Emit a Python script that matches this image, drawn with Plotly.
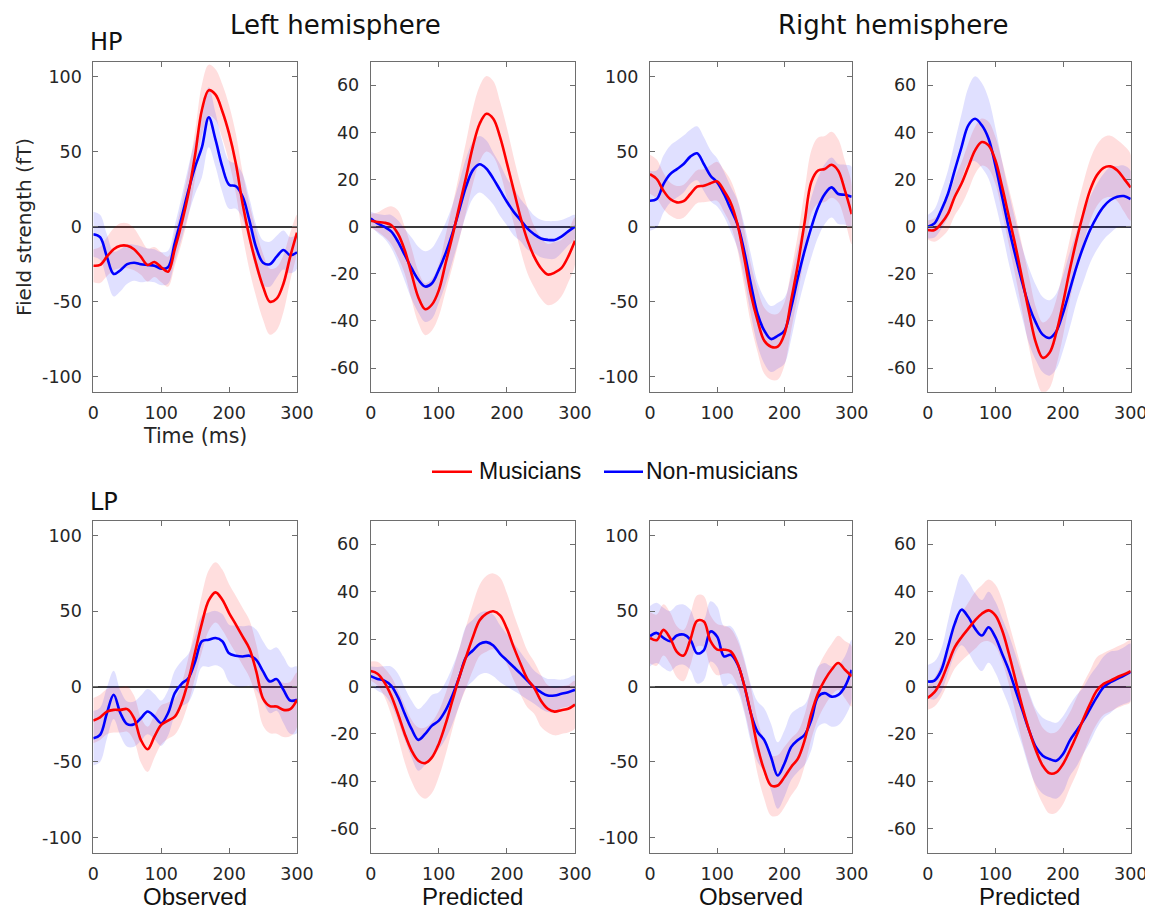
import plotly.graph_objects as go

# ---------------- data (time in ms, field strength in fT) ----------------
time_ms = [0, 10, 20, 30, 40, 50, 60, 70, 80, 90, 100, 110, 120, 130, 140, 150,
           160, 170, 180, 190, 200, 210, 220, 230, 240, 250, 260, 270, 280, 290, 300]

# HP, left hemisphere, observed
hp_lh_obs_mus = [-26, -25.5, -20, -15, -12.7, -12.7, -15, -20, -25.5, -23.5, -27, -30, -15, 2, 22, 48,
                 78, 91, 88, 77, 62, 42, 15, -7, -25, -40, -50, -48, -38, -20, -4]
hp_lh_obs_mus_sem = [11, 12, 13, 14, 15, 15, 14, 12, 11, 10, 10, 10, 11, 13, 15, 16,
                     17, 17, 17, 18, 19, 20, 21, 22, 22, 22, 22, 21, 19, 16, 12]
hp_lh_obs_non = [-5, -7, -20, -31.5, -29, -25, -24, -25, -25.5, -26, -28, -27, -11, 6, 24, 40,
                 53, 73, 58, 40, 28, 27, 20, 4, -14, -24, -25, -20, -15.5, -19, -17]
hp_lh_obs_non_sem = [15, 15, 15, 15, 14, 13, 12, 12, 11, 11, 11, 11, 12, 14, 16, 18,
                     20, 20, 18, 17, 16, 15, 15, 15, 15, 15, 15, 14, 13, 12, 11]

# HP, left hemisphere, predicted
hp_lh_pred_mus = [2.5, 2, 1.7, 0.7, -3, -10, -20, -30, -35, -33, -27, -15.5, -4, 8.5, 21, 34,
                  43.7, 47.9, 45.8, 38, 27, 15.5, 4, -5.6, -12.7, -17.6, -20.3, -19.5, -17.6, -12.7, -6]
hp_lh_pred_mus_sem = [3, 4, 6, 8, 10, 10, 11, 11, 11, 11, 11, 12, 13, 14, 15, 16,
                      16, 16, 16, 15, 15, 14, 14, 14, 13, 13, 13, 13, 12, 11, 10]
hp_lh_pred_non = [3.5, 1.4, 0, -2, -6.3, -12, -17.6, -22.5, -25.4, -24, -18.3, -11.3, -2.8, 7, 17, 24,
                  26.5, 24.6, 20.4, 15.5, 10.6, 6.3, 2.8, -0.7, -3.2, -5, -5.6, -5.6, -4.2, -2, 0]
hp_lh_pred_non_sem = [3, 4, 5, 7, 9, 11, 13, 14, 15, 15, 14, 13, 12, 12, 12, 12,
                      12, 12, 11, 11, 10, 10, 9, 9, 8, 8, 8, 8, 7, 6, 5]

# HP, right hemisphere, observed
hp_rh_obs_mus = [35, 31.8, 24, 18.4, 16.2, 17, 21.8, 26.7, 27.3, 28.9, 30.2, 24, 16, 1.8, -20.4, -44.9,
                 -62.7, -76, -80, -80, -71.6, -49, -25, 3, 30, 37.5, 38.5, 41.3, 37.3, 24, 8.4]
hp_rh_obs_mus_sem = [13, 13, 12, 11, 11, 11, 11, 11, 11, 12, 13, 14, 15, 17, 19, 20,
                     21, 22, 22, 22, 21, 20, 20, 21, 21, 22, 22, 22, 21, 20, 20]
hp_rh_obs_non = [17.3, 18.4, 28.4, 35, 38.4, 41.8, 46.7, 48.9, 41.8, 34, 29.5, 21.8, 11.8, 1.8, -16, -38.2,
                 -58.2, -69.3, -74.9, -72.7, -69.3, -53.8, -33.8, -16, -0.4, 12.9, 21.8, 26.2, 21.8, 21.3, 20]
hp_rh_obs_non_sem = [20, 19, 19, 19, 19, 19, 18, 18, 18, 17, 16, 15, 15, 16, 18, 20,
                     21, 22, 22, 22, 22, 21, 20, 20, 20, 20, 20, 20, 20, 20, 20]

# HP, right hemisphere, predicted
hp_rh_pred_mus = [-1.4, -1.4, 1.4, 5.5, 12.7, 18.3, 25.4, 32.4, 35.9, 34.5, 28.2, 16.9, 4.2, -8.5, -22.5, -36.6,
                  -49.3, -55.6, -53.5, -45, -32.4, -18.3, -5.6, 5.6, 15.5, 21.8, 25, 25.6, 23.9, 20.4, 16.6]
hp_rh_pred_mus_sem = [4, 5, 6, 7, 8, 9, 10, 10, 10, 10, 10, 11, 12, 13, 14, 15,
                      15, 15, 15, 14, 14, 13, 13, 13, 13, 13, 13, 13, 13, 14, 14]
hp_rh_pred_non = [0, 1.4, 7, 14, 24, 33.8, 43, 45.8, 43, 37.3, 26, 12.7, -0.7, -12.7, -24, -33.8,
                  -40.8, -45.8, -47.2, -44.4, -36.6, -26.8, -16.9, -8.5, -1.4, 4.2, 8.5, 11.3, 12.7, 13, 11.7]
hp_rh_pred_non_sem = [5, 6, 8, 10, 12, 14, 16, 18, 18, 17, 16, 15, 15, 15, 15, 16,
                      16, 16, 16, 16, 16, 16, 15, 15, 14, 14, 14, 14, 13, 13, 12]

# LP, left hemisphere, observed
lp_lh_obs_mus = [-22.6, -20.4, -16.6, -15.5, -15.5, -15, -21, -35.4, -41.6, -33.2, -25.4, -22.6, -20, -11, 4, 23,
                 42, 57, 62.4, 57.5, 48.7, 41, 33, 25, 10, -8, -13, -13.3, -15.5, -15, -8.8]
lp_lh_obs_mus_sem = [15, 15, 15, 15, 15, 15, 15, 15, 15, 14, 13, 12, 12, 13, 15, 17,
                     19, 20, 20, 20, 19, 19, 19, 19, 18, 18, 18, 18, 18, 18, 18]
lp_lh_obs_non = [-34.3, -32, -17.7, -5.5, -17.7, -25, -25, -21, -16.6, -19.9, -24.3, -17.7, -4.4, 1.8, 5.5, 16.6,
                 30, 31, 32.1, 30, 22, 20.4, 19.9, 20.4, 17.7, 10, 3.3, 4.9, -2.2, -9.3, -8.8]
lp_lh_obs_non_sem = [18, 18, 17, 16, 15, 15, 15, 15, 15, 15, 15, 15, 15, 15, 16, 17,
                     17, 18, 18, 18, 19, 20, 20, 20, 20, 20, 21, 21, 22, 22, 22]

# LP, left hemisphere, predicted
lp_lh_pred_mus = [6.5, 5.4, 1.8, -3.8, -11.5, -20, -27, -31.3, -32.3, -29.9, -24.2, -15.8, -5.9, 3.9, 12.4, 20.8,
                  27.9, 30.7, 31.7, 30, 24.4, 16.6, 9.6, 3.2, -0.5, -6, -9.4, -10.6, -10, -9.4, -7.6]
lp_lh_pred_mus_sem = [4, 5, 6, 8, 10, 12, 13, 14, 15, 15, 14, 13, 12, 12, 13, 14,
                      15, 16, 16, 16, 15, 14, 13, 12, 11, 11, 10, 10, 10, 10, 10]
lp_lh_pred_non = [4.4, 3.2, 2.5, 0.4, -4.5, -11.5, -17.9, -22.5, -20, -16.5, -14.4, -10.1, -3.8, 3.9, 12.4, 15.2,
                  18, 18.7, 17.3, 13.8, 11, 8.2, 5.4, 2.5, -0.3, -2.4, -3.8, -3.8, -3.1, -2.4, -1.4]
lp_lh_pred_non_sem = [4, 5, 6, 8, 10, 11, 12, 13, 13, 13, 12, 12, 12, 12, 13, 13,
                      13, 13, 13, 12, 11, 10, 9, 8, 7, 7, 7, 7, 6, 6, 6]

# LP, right hemisphere, observed
lp_rh_obs_mus = [32.2, 30.7, 37.5, 32, 23, 20.5, 31, 43.5, 43, 30, 24.4, 24.4, 23.3, 15.6, 1, -17.8,
                 -40, -55.6, -65.6, -65.6, -60, -53.3, -47.8, -35.6, -17.8, -4.4, 4.4, 11.1, 15.6, 11.1, 6.7]
lp_rh_obs_mus_sem = [17, 17, 17, 17, 17, 17, 17, 17, 17, 17, 17, 16, 15, 15, 16, 17,
                     18, 19, 20, 20, 20, 19, 18, 17, 17, 17, 17, 17, 18, 19, 20]
lp_rh_obs_non = [33.3, 35.5, 32.2, 30, 33.8, 34.4, 31, 22, 24, 36.5, 33, 20, 21, 15, 1, -17.8,
                 -30, -35.5, -46.7, -59, -51, -40, -35.5, -32, -22, -6.7, -4.4, -6.7, -5.6, 0, 11]
lp_rh_obs_non_sem = [20, 20, 20, 20, 20, 20, 20, 20, 20, 20, 20, 20, 19, 18, 18, 19,
                     20, 21, 22, 22, 22, 22, 21, 20, 20, 20, 20, 20, 20, 20, 20]

# LP, right hemisphere, predicted
lp_rh_pred_mus = [-4.8, -2.4, 2.5, 9.6, 16.6, 20.8, 24.4, 27.9, 30.7, 32.1, 30, 23.7, 13.8, 2.5, -8.7, -18.6,
                  -27, -33.4, -36.6, -36.2, -32.7, -27, -20.7, -13.7, -7.3, -1.7, 1.1, 2.5, 3.9, 5.1, 6.5]
lp_rh_pred_mus_sem = [5, 6, 7, 8, 9, 10, 11, 12, 12, 13, 13, 13, 13, 14, 15, 15,
                      16, 16, 17, 17, 17, 16, 16, 15, 14, 14, 13, 13, 13, 13, 13]
lp_rh_pred_non = [2.1, 2.5, 6.8, 16.6, 26.5, 32.4, 29.3, 24.4, 21.5, 25, 20.8, 13.8, 6.8, -1.7, -10.1, -18.6,
                  -25.6, -29.2, -30.6, -31.3, -28.5, -22.8, -18.6, -14.4, -9.4, -4.5, -0.3, 1.8, 3.2, 4.6, 6.1]
lp_rh_pred_non_sem = [7, 8, 9, 11, 13, 15, 15, 15, 15, 15, 15, 15, 15, 15, 15, 16,
                      16, 16, 16, 16, 16, 15, 15, 14, 14, 13, 13, 13, 12, 12, 12]

x_ticks = [0, 100, 200, 300]
obs_ticks = [-100, -50, 0, 50, 100]
pred_ticks = [-60, -40, -20, 0, 20, 40, 60]
column_labels = ["Observed", "Predicted", "Observed", "Predicted"]
hemisphere_labels = ["Left hemisphere", "Right hemisphere"]
row_labels = ["HP", "LP"]
legend_labels = ["Musicians", "Non-musicians"]

panels = [
    (hp_lh_obs_mus, hp_lh_obs_mus_sem, hp_lh_obs_non, hp_lh_obs_non_sem, "obs"),
    (hp_lh_pred_mus, hp_lh_pred_mus_sem, hp_lh_pred_non, hp_lh_pred_non_sem, "pred"),
    (hp_rh_obs_mus, hp_rh_obs_mus_sem, hp_rh_obs_non, hp_rh_obs_non_sem, "obs"),
    (hp_rh_pred_mus, hp_rh_pred_mus_sem, hp_rh_pred_non, hp_rh_pred_non_sem, "pred"),
    (lp_lh_obs_mus, lp_lh_obs_mus_sem, lp_lh_obs_non, lp_lh_obs_non_sem, "obs"),
    (lp_lh_pred_mus, lp_lh_pred_mus_sem, lp_lh_pred_non, lp_lh_pred_non_sem, "pred"),
    (lp_rh_obs_mus, lp_rh_obs_mus_sem, lp_rh_obs_non, lp_rh_obs_non_sem, "obs"),
    (lp_rh_pred_mus, lp_rh_pred_mus_sem, lp_rh_pred_non, lp_rh_pred_non_sem, "pred"),
]

# ---------------- layout geometry ----------------
# The page body has an 8px margin, so reference pixel positions are shifted by OFF.
W, H = 1145, 902
OFF = 8


def px_x(p):
    return (p - OFF) / W


def px_y(p):
    return 1 - (p - OFF) / H


col_px = [(93.3, 297.0), (370.7, 575.0), (650.0, 851.7), (927.7, 1130.7)]
row_px = [(61.7, 391.7), (520.5, 852.5)]

RED = "#ff0000"
BLUE = "#0000ff"
RED_FILL = "rgba(255,0,0,0.13)"
BLUE_FILL = "rgba(0,0,255,0.12)"
AXCOL = "#6e6e6e"
TICKFONT = dict(family="DejaVu Sans", size=17.5, color="#262626")

fig = go.Figure()
layout = {}

for i, (mus, mus_sem, non, non_sem, kind) in enumerate(panels):
    r, c = divmod(i, 4)
    ax = "" if i == 0 else str(i + 1)
    xa, ya = "x" + ax, "y" + ax

    for mean, sem, fillc in ((mus, mus_sem, RED_FILL), (non, non_sem, BLUE_FILL)):
        upper = [m + s for m, s in zip(mean, sem)]
        lower = [m - s for m, s in zip(mean, sem)]
        fig.add_trace(go.Scatter(
            x=time_ms + time_ms[::-1], y=upper + lower[::-1],
            fill="toself", fillcolor=fillc, line=dict(width=0, shape="spline"),
            mode="lines", hoverinfo="skip", showlegend=False, xaxis=xa, yaxis=ya))
    fig.add_trace(go.Scatter(x=time_ms, y=non, mode="lines",
                             line=dict(color=BLUE, width=2.6, shape="spline", smoothing=1.0),
                             name=legend_labels[1], showlegend=False, xaxis=xa, yaxis=ya))
    fig.add_trace(go.Scatter(x=time_ms, y=mus, mode="lines",
                             line=dict(color=RED, width=2.6, shape="spline", smoothing=1.0),
                             name=legend_labels[0], showlegend=False, xaxis=xa, yaxis=ya))

    x0, x1 = col_px[c]
    y0, y1 = row_px[r]
    yr = [-110, 110] if kind == "obs" else [-70, 70]
    yt = obs_ticks if kind == "obs" else pred_ticks
    common = dict(showline=True, mirror="allticks", linecolor=AXCOL, linewidth=1,
                  ticks="inside", ticklen=5, tickcolor=AXCOL, tickwidth=1,
                  showgrid=False, tickfont=TICKFONT, automargin=False)
    layout["xaxis" + ax] = dict(domain=[px_x(x0), px_x(x1)], range=[0, 300], tickvals=x_ticks,
                                zeroline=False, anchor=ya, ticklabelstandoff=5, **common)
    layout["yaxis" + ax] = dict(domain=[px_y(y1), px_y(y0)], range=yr, tickvals=yt,
                                ticktext=[str(v) for v in yt],
                                zeroline=True, zerolinecolor="#3a3a3a", zerolinewidth=1.5,
                                anchor=xa, ticklabelstandoff=7, **common)

annotations = []
# hemisphere titles
for label, cx in zip(hemisphere_labels, [335, 892.5]):
    annotations.append(dict(text=label, x=px_x(cx), y=px_y(25), xref="paper", yref="paper",
                            xanchor="center", yanchor="middle", showarrow=False,
                            font=dict(family="DejaVu Sans", size=26, color="#111111")))
# row labels
for label, cy in zip(row_labels, [42, 502]):
    annotations.append(dict(text=label, x=px_x(88), y=px_y(cy), xref="paper", yref="paper",
                            xanchor="left", yanchor="middle", showarrow=False,
                            font=dict(family="DejaVu Sans", size=24, color="#111111")))
# column labels
for label, (x0, x1) in zip(column_labels, col_px):
    annotations.append(dict(text=label, x=px_x((x0 + x1) / 2), y=px_y(896), xref="paper", yref="paper",
                            xanchor="center", yanchor="middle", showarrow=False,
                            font=dict(family="Liberation Sans", size=24, color="#111111")))
# axis titles on first panel
annotations.append(dict(text="Time (ms)", x=px_x(195), y=px_y(436), xref="paper", yref="paper",
                        xanchor="center", yanchor="middle", showarrow=False,
                        font=dict(family="DejaVu Sans", size=20.5, color="#262626")))
annotations.append(dict(text="Field strength (fT)", x=px_x(24), y=px_y(227), xref="paper", yref="paper",
                        xanchor="center", yanchor="middle", showarrow=False, textangle=-90,
                        font=dict(family="DejaVu Sans", size=20, color="#262626")))
# legend texts
for label, lx in zip(legend_labels, [477, 644]):
    annotations.append(dict(text=label, x=px_x(lx), y=px_y(471), xref="paper", yref="paper",
                            xanchor="left", yanchor="middle", showarrow=False,
                            font=dict(family="Liberation Sans", size=23, color="#111111")))

shapes = []
for col, (lx0, lx1) in zip([RED, BLUE], [(432, 472), (604, 643)]):
    shapes.append(dict(type="line", xref="paper", yref="paper", x0=px_x(lx0), x1=px_x(lx1),
                       y0=px_y(471.7), y1=px_y(471.7), line=dict(color=col, width=2.6)))

fig.update_layout(width=W, height=H, autosize=False, margin=dict(l=0, r=0, t=0, b=0, pad=0),
                  paper_bgcolor="white", plot_bgcolor="white", showlegend=False,
                  annotations=annotations, shapes=shapes, **layout)

fig.write_html("out.html", config={"responsive": False})
